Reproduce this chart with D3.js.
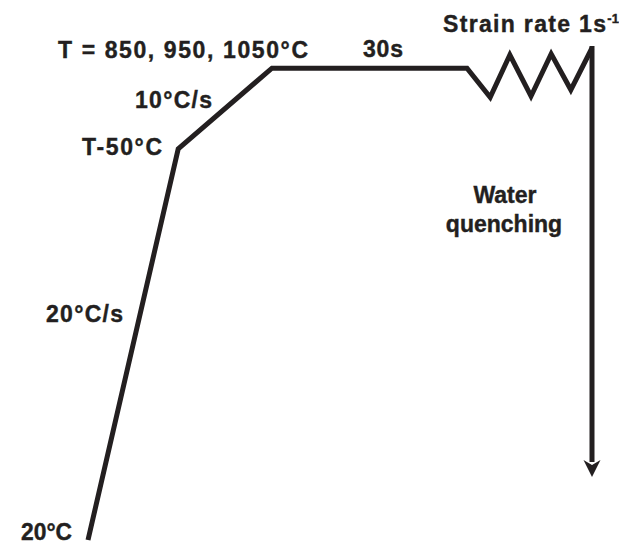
<!DOCTYPE html>
<html>
<head>
<meta charset="utf-8">
<script src="https://cdn.jsdelivr.net/npm/d3@7"></script>
<style>
  html, body { margin: 0; padding: 0; background: #fff; }
  svg { display: block; }
  text { font-family: "Liberation Sans", Arial, Helvetica, sans-serif; font-weight: bold; fill: #231f20; stroke: #231f20; stroke-width: 0.4px; }
</style>
</head>
<body>
<svg id="chart" width="619" height="545"></svg>
<script>
// Schematic schedule: time (arbitrary units, 0-100) vs temperature (arbitrary units, 0-100)
const stages = ["start 20°C", "T-50°C", "T reached", "end of 30s hold", "strain", "strain", "strain", "strain", "strain", "end of deformation"];
const times = [0, 17.9, 36.5, 75.2, 79.8, 83.7, 87.9, 91.9, 95.8, 100];
const temps = [0, 79.5, 95.9, 95.9, 90.0, 98.6, 90.2, 98.8, 91.5, 100];
const quenchTimes = [100, 100];
const quenchTemps = [100, 12.8];
const labels = [
  "T = 850, 950, 1050°C",
  "30s",
  "Strain rate 1s",
  "10°C/s",
  "T-50°C",
  "Water",
  "quenching",
  "20°C/s",
  "20°C"
];
const superscript = "-1";

const svg = d3.select("#chart");
const x = d3.scaleLinear().domain([0, 100]).range([88, 592]);
const y = d3.scaleLinear().domain([0, 100]).range([540, 48]);
const ink = "#231f20";

const pts = times.map((t, i) => [t, temps[i]]);
const line = d3.line().x(d => x(d[0])).y(d => y(d[1]));

svg.append("path")
  .datum(pts)
  .attr("d", line)
  .attr("fill", "none")
  .attr("stroke", ink)
  .attr("stroke-width", 5)
  .attr("stroke-linejoin", "miter")
  .attr("stroke-miterlimit", 10)
  .attr("stroke-linecap", "butt");

// quench arrow
const qpts = quenchTimes.map((t, i) => [t, quenchTemps[i]]);
const tip = qpts[1];
const headLen = 17, headHalf = 8.5;
svg.append("line")
  .attr("x1", x(qpts[0][0])).attr("y1", y(qpts[0][1]) - 2)
  .attr("x2", x(tip[0])).attr("y2", y(tip[1]) - headLen + 2)
  .attr("stroke", ink).attr("stroke-width", 5);
svg.append("path")
  .attr("d", `M${x(tip[0])},${y(tip[1])} L${x(tip[0]) - headHalf},${y(tip[1]) - headLen} L${x(tip[0])},${y(tip[1]) - headLen + 5} L${x(tip[0]) + headHalf},${y(tip[1]) - headLen} Z`)
  .attr("fill", ink);

// labels: [x, baseline, width (0 = natural, centred on x)]
const labelPos = [
  [58, 58, 250], [363, 57, 40], [443, 32, 163], [135, 108, 77], [82, 155, 80],
  [505, 203, 0], [504, 232, 0], [46, 322, 77], [21, 540, 51]
];
const fs = 23;
labels.forEach((txt, i) => {
  const [lx, ly, lw] = labelPos[i];
  const t = svg.append("text")
    .attr("x", lx)
    .attr("y", ly)
    .attr("font-size", fs);
  const main = t.append("tspan").text(txt);
  if (lw > 0) {
    const natural = main.node().getComputedTextLength();
    main.attr("textLength", lw)
        .attr("lengthAdjust", natural > lw ? "spacingAndGlyphs" : "spacing");
  } else {
    t.attr("text-anchor", "middle");
  }
  if (i === 2) {
    t.append("tspan")
      .attr("font-size", 13)
      .attr("dy", -9)
      .text(superscript);
  }
});
</script>
</body>
</html>
